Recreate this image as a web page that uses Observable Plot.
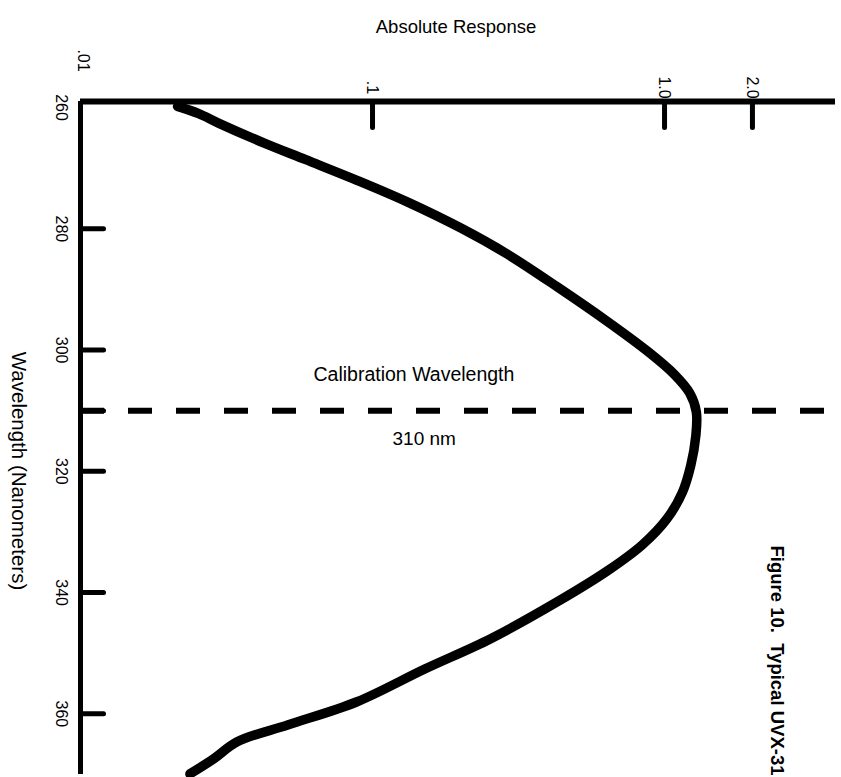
<!DOCTYPE html>
<html>
<head>
<meta charset="utf-8">
<script src="https://cdn.jsdelivr.net/npm/d3@7"></script>
<script src="https://cdn.jsdelivr.net/npm/@observablehq/plot@0.6"></script>
<style>
  html, body { margin: 0; padding: 0; background: #fff; }
  #chart { width: 841px; height: 777px; }
</style>
</head>
<body>
<div id="chart"></div>
<script>
// Response curve
const wavelength = [259.8, 261.0, 262.6, 265.9, 268.6, 272.0, 275.6, 280, 284.2, 289.6, 295.3, 300.2, 304.0, 307.1, 310.2, 314.1, 319.0, 323.5, 327.8, 332.1, 336.4, 341.5, 347.6, 352.6, 358.0, 361.8, 364.6, 367.4, 369.9];
const response   = [0.0215, 0.0254, 0.0298, 0.0428, 0.0591, 0.0885, 0.132, 0.203, 0.290, 0.430, 0.638, 0.875, 1.08, 1.22, 1.285, 1.28, 1.23, 1.15, 1.02, 0.84, 0.638, 0.430, 0.254, 0.151, 0.0885, 0.0515, 0.0344, 0.0286, 0.0237];

// Axis ticks and labels
const responseTicks = [0.1, 1, 2];
const responseTickLabels = [".1", "1.0", "2.0"];
const responseFirstTick = [0.01];
const responseFirstLabel = [".01"];
const wavelengthTicks = [280, 300, 310, 320, 340, 360];
const wavelengthLabels = [260, 280, 300, 320, 340, 360];
const calibration = [310];

const titleText = "Absolute Response";
const yTitle = "Wavelength (Nanometers)";
const caption = "Figure 10.  Typical UVX-31";

const curve = wavelength.map((w, i) => ({w, r: response[i]}));

const tickShape = {draw(context, l) { context.moveTo(0, 0); context.lineTo(0, -l); }};

const chart = Plot.plot({
  width: 841,
  height: 777,
  marginLeft: 80,
  marginRight: 6,
  marginTop: 101,
  marginBottom: 3,
  style: {fontFamily: "'Liberation Sans', Arial, sans-serif", fontSize: "15px", background: "#fff", color: "#000", overflow: "visible"},
  x: {type: "log", domain: [0.01, 3.85], axis: null},
  y: {domain: [259, 370], reverse: true, axis: null},
  marks: [
    // frame lines
    Plot.ruleY([259], {strokeWidth: 6}),
    Plot.ruleX(responseFirstTick, {strokeWidth: 5}),
    // inward ticks
    Plot.vector(responseTicks, {x: d => d, frameAnchor: "top", rotate: 180, length: 26, anchor: "start", shape: tickShape, strokeWidth: 5, strokeLinecap: "round"}),
    Plot.vector(wavelengthTicks, {y: d => d, frameAnchor: "left", rotate: 90, length: 23, anchor: "start", shape: tickShape, strokeWidth: 5, strokeLinecap: "round"}),
    // tick labels
    Plot.text(responseTicks, {x: d => d, frameAnchor: "top", dy: -14, rotate: 90, textAnchor: "middle", lineAnchor: "middle", text: (d, i) => responseTickLabels[i], fontSize: 16}),
    Plot.text(responseFirstTick, {x: d => d, frameAnchor: "top", dx: 3, dy: -41, rotate: 90, textAnchor: "middle", lineAnchor: "middle", text: (d, i) => responseFirstLabel[i], fontSize: 16}),
    Plot.text(wavelengthLabels, {y: d => d, frameAnchor: "left", dx: -19, rotate: 90, textAnchor: "middle", lineAnchor: "middle", text: d => String(d), fontSize: 16}),
    // calibration line
    Plot.ruleY(calibration, {strokeWidth: 6, strokeDasharray: "24,24"}),
    Plot.text(calibration, {y: d => d, frameAnchor: "left", dx: 233, dy: -36, textAnchor: "start", text: () => "Calibration Wavelength", fontSize: 19.5}),
    Plot.text(calibration, {y: d => d, frameAnchor: "left", dx: 312, dy: 28, textAnchor: "start", text: d => `${d} nm`, fontSize: 19}),
    // response curve
    Plot.line(curve, {x: "r", y: "w", strokeWidth: 9.5, curve: "catmull-rom", strokeLinejoin: "round"}),
    // titles
    Plot.text([titleText], {frameAnchor: "top", dx: -2, dy: -74, textAnchor: "middle", lineAnchor: "middle", fontSize: 18.5}),
    Plot.text([yTitle], {frameAnchor: "left", dx: -62, dy: 33, rotate: 90, textAnchor: "middle", lineAnchor: "middle", fontSize: 20.5}),
    Plot.text([caption], {frameAnchor: "top-right", dx: -59, dy: 444, rotate: 90, textAnchor: "start", lineAnchor: "middle", fontWeight: "bold", fontSize: 18.5})
  ]
});
document.getElementById("chart").appendChild(chart);
</script>
</body>
</html>
